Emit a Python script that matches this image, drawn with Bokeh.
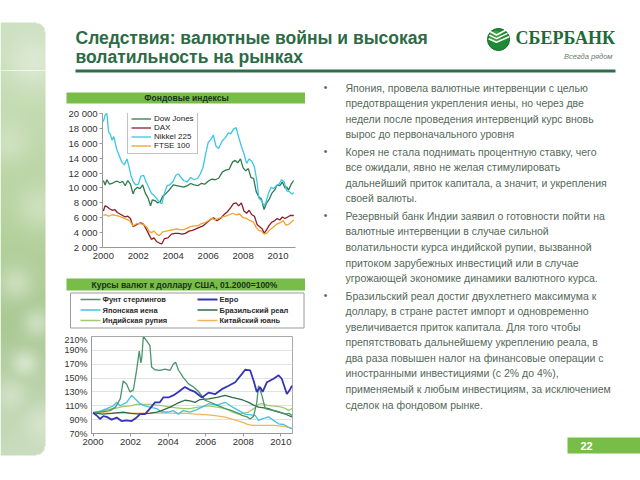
import numpy as np
from bokeh.plotting import figure
from bokeh.models import Range1d, FixedTicker, Legend, LegendItem, Spacer
from bokeh.layouts import row, column
from bokeh.core.properties import value
from bokeh.embed import file_html
from bokeh.resources import INLINE

FONT = "Liberation Sans"

# ---------------- texts ----------------
title_lines = ["Следствия: валютные войны и высокая", "волатильность на рынках"]
logo_name = "СБЕРБАНК"
logo_slogan = "Всегда рядом"
chart1_title = "Фондовые индексы"
chart2_title = "Курсы валют к доллару США, 01.2000=100%"
page_number = "22"

bullets = [
    ["Япония, провела валютные интервенции с целью",
     "предотвращения укрепления иены, но через две",
     "недели после проведения интервенций курс вновь",
     "вырос до первоначального уровня"],
    ["Корея не стала поднимать процентную ставку, чего",
     "все ожидали, явно не желая стимулировать",
     "дальнейший приток капитала, а значит, и укрепления",
     "своей валюты."],
    ["Резервный банк Индии заявил о готовности пойти на",
     "валютные интервенции в случае сильной",
     "волатильности курса индийской рупии, вызванной",
     "притоком зарубежных инвестиций или в случае",
     "угрожающей экономике динамики валютного курса."],
    ["Бразильский реал достиг двухлетнего максимума к",
     "доллару, в стране растет импорт и одновременно",
     "увеличивается приток капитала. Для того чтобы",
     "препятствовать дальнейшему укреплению реала, в",
     "два раза повышен налог на финансовые операции с",
     "иностранными инвестициями (с 2% до 4%),",
     "применяемый к любым инвестициям, за исключением",
     "сделок на фондовом рынке."],
]

# ---------------- chart 1: stock indices ----------------
year_ticks = [2000, 2002, 2004, 2006, 2008, 2010]
year_tick_labels = ["2000", "2002", "2004", "2006", "2008", "2010"]
idx_ticks = [2000, 4000, 6000, 8000, 10000, 12000, 14000, 16000, 18000, 20000]
idx_tick_labels = ["2 000", "4 000", "6 000", "8 000", "10 000", "12 000",
                   "14 000", "16 000", "18 000", "20 000"]
idx_names = ["Dow Jones", "DAX", "Nikkel 225", "FTSE 100"]

dow_x = [2000.0, 2000.1, 2000.2, 2000.35, 2000.5, 2000.65, 2000.8, 2000.95, 2001.1, 2001.25,
         2001.4, 2001.55, 2001.7, 2001.8, 2001.95, 2002.1, 2002.25, 2002.4, 2002.55, 2002.7,
         2002.8, 2002.95, 2003.1, 2003.25, 2003.4, 2003.6, 2003.8, 2004.0, 2004.2, 2004.4,
         2004.6, 2004.8, 2005.0, 2005.2, 2005.4, 2005.6, 2005.8, 2006.0, 2006.2, 2006.4,
         2006.6, 2006.8, 2007.0, 2007.2, 2007.4, 2007.55, 2007.7, 2007.85, 2008.0, 2008.15,
         2008.3, 2008.45, 2008.6, 2008.75, 2008.9, 2009.05, 2009.2, 2009.35, 2009.5, 2009.65,
         2009.8, 2009.95, 2010.1, 2010.25, 2010.4, 2010.5, 2010.6, 2010.75, 2010.9]
dow_y = [11000, 10400, 11100, 10500, 10600, 10800, 10900, 10700, 10900, 10300,
         11000, 10500, 9200, 9800, 10100, 9900, 10400, 9300, 8700, 7600,
         8400, 8300, 8000, 8100, 8900, 9300, 9800, 10400, 10300, 10200,
         10100, 10300, 10600, 10400, 10300, 10600, 10500, 10900, 11200, 11100,
         11300, 12100, 12400, 12500, 13500, 13700, 13400, 13900, 12700, 12300,
         12600, 11400, 11300, 9500, 8800, 8500, 7100, 8000, 8500, 9300,
         9700, 10400, 10300, 10800, 10000, 10100, 9700, 10500, 11000]

dax_x = [2000.0, 2000.1, 2000.2, 2000.35, 2000.5, 2000.65, 2000.8, 2000.95, 2001.1, 2001.25,
         2001.4, 2001.55, 2001.7, 2001.85, 2002.0, 2002.15, 2002.3, 2002.45, 2002.6, 2002.75,
         2002.9, 2003.05, 2003.2, 2003.35, 2003.5, 2003.7, 2003.9, 2004.1, 2004.3, 2004.5,
         2004.7, 2004.9, 2005.1, 2005.3, 2005.5, 2005.7, 2005.9, 2006.1, 2006.3, 2006.5,
         2006.7, 2006.9, 2007.1, 2007.3, 2007.45, 2007.6, 2007.75, 2007.9, 2008.05, 2008.2,
         2008.35, 2008.5, 2008.65, 2008.8, 2008.95, 2009.1, 2009.2, 2009.35, 2009.5, 2009.65,
         2009.8, 2009.95, 2010.1, 2010.25, 2010.4, 2010.55, 2010.7, 2010.9]
dax_y = [6900, 7600, 7500, 7200, 7000, 7100, 6700, 6500, 6300, 6100,
         6200, 5900, 4800, 5000, 5200, 5300, 5100, 4500, 3800, 3100,
         3300, 2800, 2600, 2500, 3200, 3300, 3800, 3900, 3900, 3800,
         3900, 4200, 4300, 4500, 4700, 4900, 5300, 5700, 6000, 5600,
         5900, 6400, 6800, 7400, 7900, 8000, 7600, 8000, 6900, 6600,
         7000, 6400, 6200, 5100, 4800, 4500, 3900, 4400, 5000, 5400,
         5600, 5900, 5700, 6100, 5900, 6100, 6300, 6300]

nikkei_x = [2000.0, 2000.1, 2000.2, 2000.3, 2000.4, 2000.5, 2000.6, 2000.75, 2000.9, 2001.05,
            2001.2, 2001.35, 2001.45, 2001.6, 2001.72, 2001.85, 2002.0, 2002.15, 2002.3, 2002.45,
            2002.6, 2002.75, 2002.9, 2003.05, 2003.2, 2003.35, 2003.5, 2003.65, 2003.8, 2004.0,
            2004.15, 2004.3, 2004.45, 2004.6, 2004.8, 2005.0, 2005.2, 2005.4, 2005.55, 2005.7,
            2005.85, 2006.0, 2006.15, 2006.3, 2006.45, 2006.6, 2006.8, 2007.0, 2007.15, 2007.3,
            2007.45, 2007.6, 2007.75, 2007.9, 2008.05, 2008.2, 2008.35, 2008.5, 2008.65, 2008.8,
            2008.9, 2009.05, 2009.2, 2009.3, 2009.45, 2009.6, 2009.75, 2009.9, 2010.05, 2010.2,
            2010.35, 2010.5, 2010.65, 2010.8, 2010.9]
nikkei_y = [18900, 19800, 20000, 17500, 17200, 16400, 16900, 15300, 14400, 13500,
            13100, 13900, 13000, 11500, 10800, 10400, 10500, 11600, 11700, 10800,
            10100, 9300, 9000, 8600, 8100, 7900, 9300, 10300, 10400, 10900,
            11700, 11900, 11400, 11000, 10800, 11400, 11100, 11300, 11900, 12700,
            14500, 16100, 16500, 17100, 15600, 15300, 16300, 16800, 17400, 17300,
            17900, 18100, 16800, 15600, 14600, 13300, 13900, 13600, 12800, 10800,
            8600, 8300, 7600, 8000, 9300, 10100, 9900, 10300, 10500, 11100,
            10800, 9600, 9500, 9200, 9400]

ftse_x = [2000.0, 2000.15, 2000.3, 2000.5, 2000.7, 2000.9, 2001.1, 2001.3, 2001.5, 2001.7,
          2001.9, 2002.1, 2002.3, 2002.5, 2002.6, 2002.75, 2002.9, 2003.05, 2003.2, 2003.4,
          2003.6, 2003.8, 2004.0, 2004.2, 2004.4, 2004.6, 2004.8, 2005.0, 2005.2, 2005.4,
          2005.6, 2005.8, 2006.0, 2006.2, 2006.4, 2006.6, 2006.8, 2007.0, 2007.2, 2007.4,
          2007.6, 2007.8, 2008.0, 2008.2, 2008.4, 2008.6, 2008.75, 2008.9, 2009.05, 2009.2,
          2009.35, 2009.5, 2009.7, 2009.9, 2010.1, 2010.3, 2010.45, 2010.6, 2010.75, 2010.9]
ftse_y = [6300, 6400, 6200, 6400, 6300, 6200, 6000, 5800, 5600, 4900,
          5200, 5200, 5100, 4700, 4200, 4000, 4200, 3800, 3600, 4100,
          4200, 4300, 4400, 4500, 4400, 4400, 4600, 4800, 4900, 4900,
          5200, 5300, 5600, 5900, 5700, 5900, 6100, 6200, 6400, 6600,
          6400, 6500, 6000, 5900, 5600, 5400, 4700, 4300, 4200, 3800,
          3900, 4300, 4700, 5100, 5300, 5600, 5000, 5100, 5400, 5700]

# ---------------- chart 2: currencies, 01.2000 = 100% ----------------
cur_ticks = [70, 90, 110, 130, 150, 170, 190, 210]
cur_tick_labels = ["70%", "90%", "110%", "130%", "150%", "170%", "190%", "210%"]
cur_names = ["Фунт стерлингов", "Евро", "Японская иена", "Бразильский реал",
             "Индийская рупия", "Китайский юань"]

gbp_x = [2000.0, 2000.35, 2000.9, 2001.2, 2001.45, 2001.61, 2001.79, 2001.97, 2002.15, 2002.32,
         2002.46, 2002.55, 2002.6, 2002.68, 2002.85, 2003.03, 2003.12, 2003.3, 2003.56, 2003.83,
         2004.1, 2004.27, 2004.4, 2004.54, 2004.8, 2005.07, 2005.35, 2005.6, 2005.97, 2006.35,
         2006.69, 2007.04, 2007.39, 2007.75, 2007.93, 2008.2, 2008.37, 2008.55, 2008.72, 2008.81,
         2008.9, 2008.99, 2009.17, 2009.45, 2009.7, 2009.95, 2010.23, 2010.45, 2010.59]
gbp_y = [100, 101, 103, 108, 120, 146, 141, 130, 133, 161,
         189, 172, 180, 210, 204, 197, 166, 162, 161, 163,
         161, 170, 173, 162, 151, 142, 137, 131, 118, 114,
         110, 106, 103, 99, 96, 94, 91, 95, 115, 139,
         132, 125, 106, 104, 103, 101, 98, 99, 96]

eur_x = [2000.0, 2000.2, 2000.37, 2000.55, 2000.73, 2000.99, 2001.26, 2001.52, 2001.79, 2002.06,
         2002.32, 2002.5, 2002.77, 2003.03, 2003.3, 2003.56, 2003.74, 2004.01, 2004.27, 2004.54,
         2004.89, 2005.16, 2005.43, 2005.8, 2006.15, 2006.51, 2006.86, 2007.22, 2007.57, 2007.93,
         2008.1, 2008.37, 2008.55, 2008.72, 2008.9, 2009.03, 2009.26, 2009.61, 2009.88, 2010.05,
         2010.32, 2010.5, 2010.59]
eur_y = [100, 96, 91, 95, 94, 90, 93, 88, 89, 88,
         93, 98, 98, 106, 115, 115, 122, 122, 125, 130,
         137, 133, 130, 122, 129, 127, 134, 139, 144, 156,
         162, 161, 146, 130, 137, 130, 144, 149, 154, 149,
         127, 134, 139]

jpy_x = [2000.0, 2000.35, 2000.73, 2001.08, 2001.26, 2001.44, 2001.79, 2002.06, 2002.32, 2002.5,
         2002.77, 2003.03, 2003.39, 2003.65, 2004.01, 2004.27, 2004.54, 2004.8, 2005.16, 2005.5,
         2005.8, 2006.15, 2006.6, 2007.04, 2007.3, 2007.57, 2008.1, 2008.4, 2008.64, 2008.81,
         2008.99, 2009.35, 2009.6, 2009.88, 2010.15, 2010.41, 2010.59]
jpy_y = [100, 102, 106, 110, 115, 110, 115, 125, 118, 113,
         110, 108, 106, 101, 101, 103, 98, 103, 101, 104,
         108, 113, 111, 115, 110, 106, 98, 97, 96, 89,
         91, 94, 89, 84, 83, 79, 77]

brl_x = [2000.0, 2000.5, 2001.0, 2001.61, 2002.0, 2002.5, 2003.0, 2003.39, 2003.65, 2004.1,
         2004.45, 2004.7, 2004.89, 2005.16, 2005.43, 2005.7, 2006.15, 2006.6, 2007.04, 2007.4,
         2007.75, 2008.0, 2008.28, 2008.55, 2008.81, 2009.1, 2009.35, 2009.6, 2009.88, 2010.15,
         2010.41, 2010.59]
brl_y = [100, 98, 99, 101, 99, 98, 99, 101, 103, 108,
         113, 116, 118, 117, 115, 119, 120, 122, 125, 122,
         120, 118, 115, 111, 108, 107, 106, 103, 101, 99,
         96, 94]

inr_x = [2000.0, 2000.5, 2000.9, 2001.3, 2001.61, 2002.0, 2002.32, 2002.7, 2003.03, 2003.4,
         2003.74, 2004.1, 2004.45, 2004.8, 2005.16, 2005.6, 2006.15, 2006.6, 2007.04, 2007.4,
         2007.75, 2008.0, 2008.28, 2008.45, 2008.64, 2008.8, 2008.99, 2009.25, 2009.52, 2009.8,
         2010.05, 2010.25, 2010.41, 2010.59]
inr_y = [100, 103, 105, 107, 109, 110, 112, 112, 112, 111,
         110, 108, 107, 106, 106, 108, 110, 108, 106, 101,
         98, 99, 101, 104, 108, 112, 113, 111, 110, 109,
         108, 106, 103, 106]

cny_x = [2000.0, 2001.0, 2002.0, 2003.0, 2004.0, 2005.0, 2005.5, 2006.15, 2006.6, 2007.04,
         2007.5, 2007.93, 2008.2, 2008.46, 2009.0, 2009.7, 2010.23, 2010.45, 2010.59]
cny_y = [100, 99.5, 99.5, 99.5, 99.5, 99, 98, 97, 95.5, 93.6,
         90, 86.4, 83.5, 81.6, 81.6, 81.6, 80, 78.5, 77]

# ---------------- styling ----------------
SLIDE_GREEN = "#2c6b44"
BAR_GREEN = "#79bd49"
TEXT_GREY = "#55695a"
IDX_COLORS = ["#2f7a4c", "#8c1c2c", "#3cc6e6", "#f0a32e"]
CUR_COLORS = ["#4a9470", "#3434b4", "#40c3e3", "#2f6b47", "#a2c96c", "#f2b45a"]
CUR_WIDTHS = [1.3, 1.8, 1.3, 1.3, 1.3, 1.3]


def blank(w, h, x0, x1, ytop, ybot):
    p = figure(width=w, height=h, x_range=Range1d(x0, x1), y_range=Range1d(ybot, ytop),
               output_backend="svg", toolbar_location=None, min_border=0,
               x_axis_location=None, y_axis_location=None)
    p.xgrid.grid_line_color = None
    p.ygrid.grid_line_color = None
    p.outline_line_color = None
    p.background_fill_color = "white"
    p.border_fill_color = "white"
    return p


def style_axes(p, xtick_out, xstand, ytick_out, ystand):
    for ax in (p.xaxis, p.yaxis):
        ax.axis_line_color = "#999999"
        ax.major_tick_line_color = "#999999"
        ax.minor_tick_line_color = None
        ax.major_label_text_font = FONT
        ax.major_label_text_font_size = "9.5px"
        ax.major_label_text_color = "#333333"
        ax.major_tick_in = 0
    p.xaxis.major_tick_out = xtick_out
    p.xaxis.major_label_standoff = xstand
    p.yaxis.major_tick_out = ytick_out
    p.yaxis.major_label_standoff = ystand


# ---- left decorative strip ----
left = blank(58, 480, 0, 58, 0, 480)
H, W = 433, 45
yy, xx = np.mgrid[0:H, 0:W].astype(float)
t = (yy / (H - 1)).ravel()
anch = [0.0, 0.2, 0.45, 0.7, 1.0]
R = np.interp(t, anch, [206, 196, 182, 170, 202]).reshape(H, W)
G = np.interp(t, anch, [224, 219, 210, 201, 220]).reshape(H, W)
B = np.interp(t, anch, [194, 178, 158, 148, 190]).reshape(H, W)
light = np.zeros((H, W))
for cx, cy, rad, s in [(32, 40, 18, 0.35), (8, 120, 14, 0.25), (38, 185, 16, 0.3),
                       (15, 260, 12, 0.35), (36, 300, 10, 0.4), (24, 340, 9, 0.45),
                       (10, 372, 12, 0.3), (40, 400, 14, 0.3)]:
    light = np.maximum(light, s * np.exp(-((xx - cx) ** 2 + (yy - cy) ** 2) / (2 * rad ** 2)))
R = R + (255 - R) * light
G = G + (255 - G) * light
B = B + (255 - B) * light
A = np.full((H, W), 255.0)
rc = 9
cx0 = W - 1 - rc
for cy0, upper in ((rc, True), (H - 1 - rc, False)):
    d = np.sqrt((xx - cx0) ** 2 + (yy - cy0) ** 2)
    side = (yy < cy0) if upper else (yy > cy0)
    A[(xx > cx0) & side & (d > rc)] = 0
img = np.zeros((H, W), dtype=np.uint32)
view = img.view(dtype=np.uint8).reshape((H, W, 4))
view[:, :, 0] = R.astype(np.uint8)
view[:, :, 1] = G.astype(np.uint8)
view[:, :, 2] = B.astype(np.uint8)
view[:, :, 3] = A.astype(np.uint8)
left.image_rgba(image=[img], x=0, y=22, dw=W, dh=H)
left.line([0, 45], [70, 70], line_color="white", line_alpha=0.6, line_width=1)

# ---- header ----
header = blank(582, 78, 58, 640, 0, 78)
header.text(x=[75, 75], y=[37, 56], text=title_lines, text_font=value(FONT),
            text_font_size="17.5px", text_font_style="bold", text_color=SLIDE_GREEN,
            text_baseline="middle", text_align="left")
header.line([75, 615], [70.5, 70.5], line_color="#2f6f48", line_width=3)
header.circle(x=[498], y=[39], radius=11, fill_color="#1f8a35", line_color="#16662a", line_width=1)
header.circle(x=[495], y=[36], radius=6, fill_color="#4cae44", line_color=None, fill_alpha=0.6)
for k in range(3):
    header.line([489.5 - 0.7 * k, 496, 505.5 + 1.5 * k], [31 + 3.6 * k, 34.5 + 3.6 * k, 29.5 + 3.4 * k],
                line_color="white", line_width=1.6)
header.text(x=[515], y=[37.5], text=[logo_name], text_font=value("Liberation Serif"),
            text_font_size="18px", text_font_style="bold", text_color="#1d6b37",
            text_baseline="middle", text_align="left")
header.text(x=[612], y=[55.5], text=[logo_slogan], text_font=value(FONT),
            text_font_size="7.5px", text_font_style="italic", text_color="#6b7b6b",
            text_baseline="middle", text_align="right")

# ---- chart 1 title bar ----
bar1 = blank(247, 28, 58, 305, 78, 106)
bar1.quad(left=[66], right=[305], top=[92], bottom=[103], fill_color=BAR_GREEN, line_color=None)
bar1.text(x=[186], y=[97.7], text=[chart1_title], text_font=value(FONT), text_font_size="8.5px",
          text_font_style="bold", text_color="#17331a", text_baseline="middle", text_align="center")

# ---- chart 1 ----
c1 = figure(width=247, height=162, x_range=Range1d(1999.95, 2011.0), y_range=Range1d(2000, 20000),
            output_backend="svg", toolbar_location=None,
            min_border_left=44, min_border_right=10, min_border_top=7, min_border_bottom=21)
c1.xgrid.grid_line_color = None
c1.ygrid.grid_line_color = None
c1.outline_line_color = None
c1.xaxis.ticker = FixedTicker(ticks=year_ticks)
c1.xaxis.major_label_overrides = dict(zip(year_ticks, year_tick_labels))
c1.yaxis.ticker = FixedTicker(ticks=idx_ticks)
c1.yaxis.major_label_overrides = dict(zip(idx_ticks, idx_tick_labels))
style_axes(c1, 0, 5, 3, 2)

idx_series = [(dow_x, dow_y), (dax_x, dax_y), (nikkei_x, nikkei_y), (ftse_x, ftse_y)]
idx_renderers = []
for (sx, sy), col in zip(idx_series, IDX_COLORS):
    idx_renderers.append(c1.line(sx, sy, line_color=col, line_width=1.3))
idx_renderers[2].level = "overlay"
leg1 = Legend(items=[LegendItem(label=n, renderers=[r]) for n, r in zip(idx_names, idx_renderers)],
              location=(25, 93), label_text_font=FONT, label_text_font_size="8px",
              label_text_color="#222222", glyph_width=20, glyph_height=7, label_height=7,
              label_standoff=3, padding=3, spacing=0, margin=0,
              border_line_color="#888888", border_line_width=1, background_fill_color="white")
c1.add_layout(leg1)

# ---- chart 2 title bar + key box ----
bar2 = blank(247, 66, 58, 305, 268, 334)
bar2.quad(left=[66], right=[305], top=[278], bottom=[290], fill_color=BAR_GREEN, line_color=None)
bar2.text(x=[184], y=[284], text=[chart2_title], text_font=value(FONT), text_font_size="8.5px",
          text_font_style="bold", text_color="#17331a", text_baseline="middle", text_align="center")
bar2.quad(left=[70], right=[303.5], top=[292.5], bottom=[327.5], fill_color="white",
          line_color="#9a9a9a", line_width=1)
key_col_x = [80, 197]
key_row_y = [299, 309.5, 320]
kxt, ky = [], []
for i, name in enumerate(cur_names):
    cx = key_col_x[i % 2]
    cy = key_row_y[i // 2]
    bar2.line([cx, cx + 20], [cy, cy], line_color=CUR_COLORS[i], line_width=CUR_WIDTHS[i] + 0.3)
    kxt.append(cx + 22)
    ky.append(cy)
bar2.text(x=kxt, y=ky, text=cur_names, text_font=value(FONT), text_font_size="7.5px",
          text_font_style="bold", text_color="#2a2a2a", text_baseline="middle", text_align="left")

# ---- chart 2 ----
c2 = figure(width=247, height=121, x_range=Range1d(1999.92, 2010.62), y_range=Range1d(70, 210),
            output_backend="svg", toolbar_location=None,
            min_border_left=33, min_border_right=13, min_border_top=2, min_border_bottom=22)
c2.xgrid.grid_line_color = None
c2.ygrid.grid_line_color = "#e2e2e2"
c2.outline_line_color = "#a8a8a8"
c2.xaxis.ticker = FixedTicker(ticks=year_ticks)
c2.xaxis.major_label_overrides = dict(zip(year_ticks, year_tick_labels))
c2.yaxis.ticker = FixedTicker(ticks=cur_ticks)
c2.yaxis.major_label_overrides = dict(zip(cur_ticks, cur_tick_labels))
style_axes(c2, 3, 2, 0, 4)
c2.yaxis.major_label_text_font_size = "9px"

cur_series = [(gbp_x, gbp_y), (eur_x, eur_y), (jpy_x, jpy_y), (brl_x, brl_y),
              (inr_x, inr_y), (cny_x, cny_y)]
# drawn back to front: yuan, rupee, yen, real, pound, euro
for i in [5, 4, 2, 3, 0, 1]:
    sx, sy = cur_series[i]
    c2.line(sx, sy, line_color=CUR_COLORS[i], line_width=CUR_WIDTHS[i])

# ---- bullet text ----
txt = blank(335, 402, 305, 640, 78, 480)
lx, ly, lt, bx, by = [], [], [], [], []
y = 87.0
for para in bullets:
    bx.append(325)
    by.append(y)
    for line in para:
        lx.append(345)
        ly.append(y)
        lt.append(line)
        y += 15.55
    y += 2.0
txt.text(x=lx, y=ly, text=lt, text_font=value(FONT), text_font_size="10.5px",
         text_color=TEXT_GREY, text_baseline="middle", text_align="left")
txt.text(x=bx, y=by, text=["•"] * len(bx), text_font=value(FONT), text_font_size="10px",
         text_color=TEXT_GREY, text_baseline="middle", text_align="center")
txt.quad(left=[567], right=[640], top=[437], bottom=[453], fill_color=BAR_GREEN, line_color=None)
txt.text(x=[586], y=[445.5], text=[page_number], text_font=value(FONT), text_font_size="11px",
         text_font_style="bold", text_color="white", text_baseline="middle", text_align="center")

# each chart in its own row so that Bokeh does not align the two plot frames
charts_col = column(bar1, row(c1), bar2, row(c2), Spacer(width=247, height=25))
layout = row(left, column(header, row(charts_col, txt)))

open("out.html", "w").write(file_html(layout, INLINE))
